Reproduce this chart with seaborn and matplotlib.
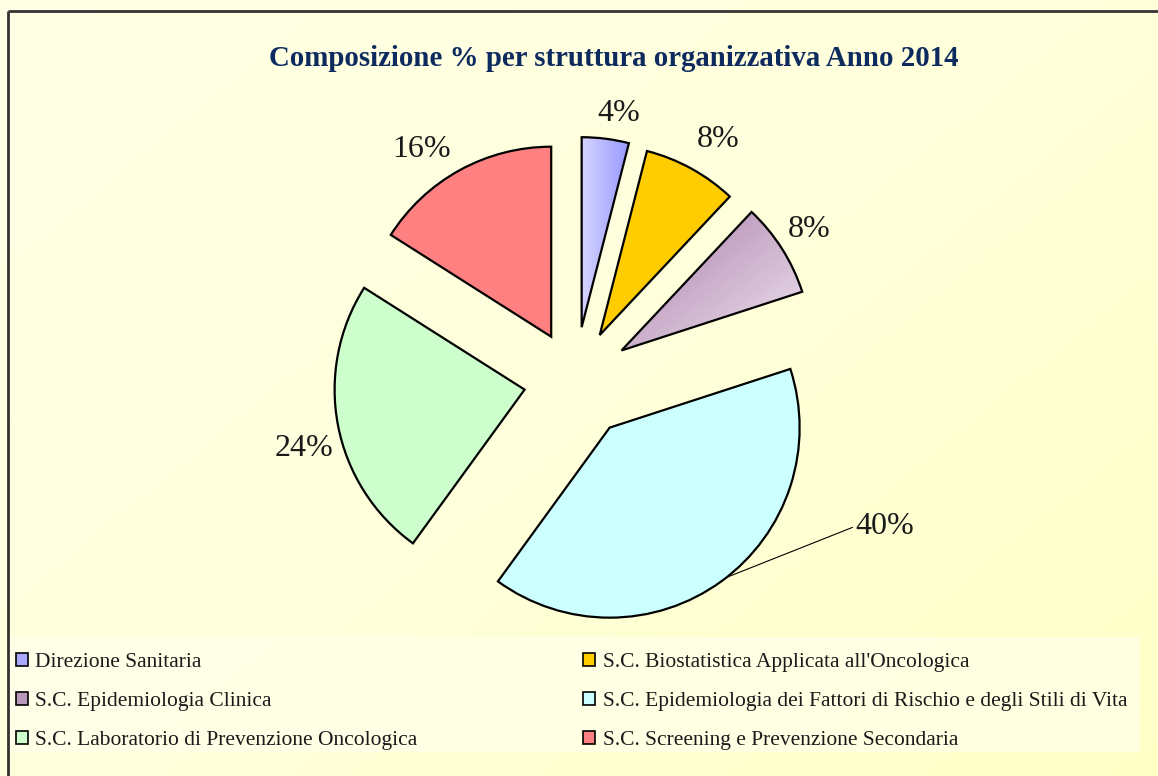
import numpy as np
import matplotlib
matplotlib.use("Agg")
import matplotlib.pyplot as plt
import seaborn as sns
from matplotlib.patches import Rectangle
from matplotlib.colors import LinearSegmentedColormap

# data
strutture = [
    "Direzione Sanitaria",
    "S.C. Biostatistica Applicata all'Oncologica",
    "S.C. Epidemiologia Clinica",
    "S.C. Epidemiologia dei Fattori di Rischio e degli Stili di Vita",
    "S.C. Laboratorio di Prevenzione Oncologica",
    "S.C. Screening e Prevenzione Secondaria",
]
percentuali = [4, 8, 8, 40, 24, 16]
etichette = ["4%", "8%", "8%", "40%", "24%", "16%"]
explode = [0.28, 0.27, 0.29, 0.31, 0.27, 0.26]

colori = sns.color_palette(["#A9A9FF", "#FFCC00", "#C8A6C8", "#CCFFFF", "#CCFFCC", "#FF8080"])

sns.set_style("white")
plt.rcParams["font.family"] = ["Liberation Serif", "DejaVu Serif"]

W, H, dpi = 1158, 776, 100
fig = plt.figure(figsize=(W / dpi, H / dpi), dpi=dpi)
fig.patch.set_facecolor("white")

# background gradient
bg = fig.add_axes([0, 0, 1, 1], zorder=0)
gx, gy = np.meshgrid(np.linspace(0, 1, 300), np.linspace(0, 1, 200))
grad = 0.55 * gx + 0.45 * gy
bg_cmap = LinearSegmentedColormap.from_list("bg", ["#FFFFE6", "#FFFFDC", "#FFFFC6"])
bg.imshow(grad, cmap=bg_cmap, aspect="auto", extent=[0, 1, 0, 1], origin="upper")
bg.set_xlim(0, 1)
bg.set_ylim(0, 1)
bg.axis("off")
# lighter legend strip
bg.add_patch(Rectangle((8 / W, 1 - 752 / H), 1132 / W, 115 / H, facecolor="#FFFFEC",
                       edgecolor="none", alpha=0.7))
# frame (top and left)
bg.plot([8 / W, 8 / W], [0, 1 - 11 / H], color="#333333", lw=2, solid_capstyle="butt")
bg.plot([8 / W, 1], [1 - 11 / H, 1 - 11 / H], color="#333333", lw=2, solid_capstyle="butt")

# pie axes
r_px = 190.0
cx, cy = 575.0, 380.0
ax = fig.add_axes([0, 0, 1, 1], zorder=1)
ax.patch.set_alpha(0)
wedges, texts = ax.pie(percentuali, labels=etichette, colors=colori, explode=explode,
                       startangle=90, counterclock=False, labeldistance=1.1,
                       wedgeprops=dict(edgecolor="black", linewidth=1.6),
                       textprops=dict(fontsize=23, color="#1a1a1a"))

# small nudges of the percent labels (pixels, +x right, +y up)
nudge = {0: (-10, 6), 1: (-4, 12), 2: (-10, 9), 4: (14, -20), 5: (0, 4)}
for i, (dx, dy) in nudge.items():
    x, y = texts[i].get_position()
    texts[i].set_position((x + dx / r_px, y + dy / r_px))

# gradient fills for the first and third wedges
def gradient_fill(wedge, c1, c2, direction):
    cmap = LinearSegmentedColormap.from_list("g", [c1, c2])
    xs, ys = np.meshgrid(np.linspace(0, 1, 100), np.linspace(0, 1, 100))
    g = xs if direction == "h" else (xs + ys) / 2
    bb = wedge.get_path().get_extents()
    im = ax.imshow(g, cmap=cmap, extent=[bb.x0, bb.x1, bb.y0, bb.y1],
                   origin="upper", zorder=wedge.get_zorder(), interpolation="bilinear")
    im.set_clip_path(wedge)
    wedge.set_facecolor("none")
    wedge.set_zorder(wedge.get_zorder() + 0.1)

gradient_fill(wedges[0], "#D4D4FF", "#9898FF", "h")
gradient_fill(wedges[2], "#A87CA8", "#F0E4F0", "d")
ax.set_xlim(-cx / r_px, (W - cx) / r_px)
ax.set_ylim(-(H - cy) / r_px, cy / r_px)
ax.set_aspect("equal", adjustable="box")
ax.axis("off")

# 40% label with leader line
big = texts[3]
w = wedges[3]
theta = np.deg2rad((w.theta1 + w.theta2) / 2 + 2)
px = w.center[0] + w.r * np.cos(theta)
py = w.center[1] + w.r * np.sin(theta)
big.set_visible(False)
ax.annotate(etichette[3], xy=(px, py), xytext=(px + 0.68, py + 0.27),
            fontsize=23, color="#1a1a1a", va="center", ha="left",
            arrowprops=dict(arrowstyle="-", color="black", lw=0.8,
                            shrinkA=0, shrinkB=0, relpos=(0, 0.5)))

# title
fig.text(0.53, 1 - 58 / H, "Composizione % per struttura organizzativa Anno 2014",
         ha="center", va="center", fontsize=20.8, fontweight="bold", color="#0D2B5E")

# legend (row-major order: matplotlib fills columns first)
ordine = [0, 2, 4, 1, 3, 5]
handles = [Rectangle((0, 0), 1, 1, facecolor=colori[i], edgecolor="black", lw=1.2)
           for i in range(len(strutture))]
handles[2].set_facecolor("#B898B8")
leg = fig.legend([handles[i] for i in ordine], [strutture[i] for i in ordine], ncol=2,
                 loc="upper left", bbox_to_anchor=(16 / W, 1 - 653 / H), frameon=False,
                 borderaxespad=0, borderpad=0,
                 fontsize=15.5, handlelength=0.55, handleheight=0.55,
                 handletextpad=0.35, columnspacing=7.7, labelspacing=0.93)
for t in leg.get_texts():
    t.set_color("#1a1a1a")

fig.savefig("out.png", dpi=dpi)
